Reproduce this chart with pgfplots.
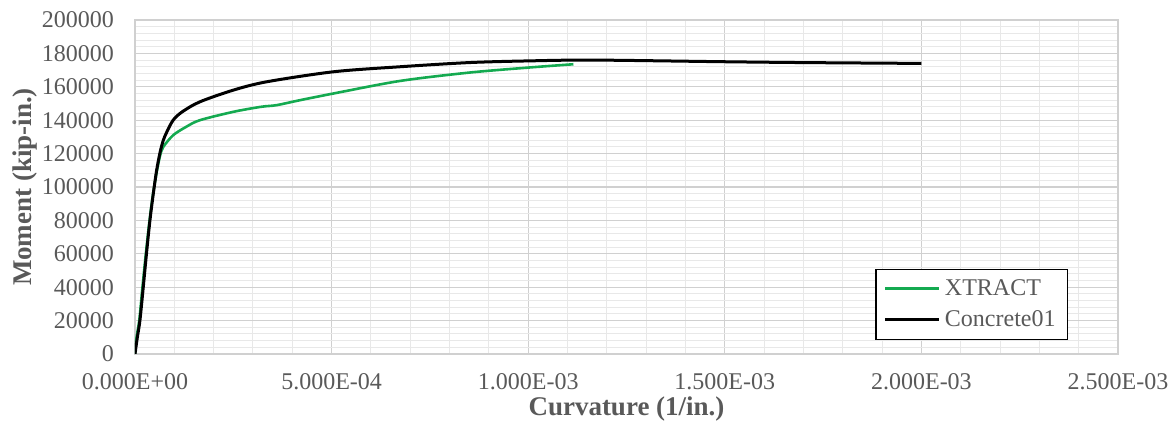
\documentclass[border=0pt]{standalone}
\usepackage{pgfplots}
\pgfplotsset{compat=1.18}
\usepackage{fontspec}
\setmainfont{Liberation Serif}
\definecolor{txt}{RGB}{89,89,89}
\definecolor{xgreen}{RGB}{20,170,80}
\definecolor{majgrid}{RGB}{208,208,208}
\definecolor{mingrid}{RGB}{232,232,232}

\begin{document}
\begin{tikzpicture}
\begin{axis}[
  scale only axis,
  width=491.5pt, height=167pt,
  xmin=0, xmax=0.0025, ymin=0, ymax=200000,
  xtick={0,0.0005,0.001,0.0015,0.002,0.0025},
  xticklabels={0.000E+00,5.000E-04,1.000E-03,1.500E-03,2.000E-03,2.500E-03},
  scaled x ticks=false, scaled y ticks=false,
  ytick={0,20000,...,200000},
  yticklabel style={/pgf/number format/fixed,/pgf/number format/1000 sep={}},
  /pgf/number format/assume math mode=true,
  minor x tick num=4, minor y tick num=4,
  grid=both,
  major grid style={majgrid, line width=0.6pt},
  minor grid style={mingrid, line width=0.5pt},
  axis line style={majgrid, line width=0.6pt},
  major tick length=0pt, minor tick length=0pt,
  tick label style={font=\fontsize{12}{14}\selectfont, text=txt},
  xticklabel style={yshift=-6pt},
  yticklabel style={xshift=-7pt},
  xlabel={\textbf{Curvature (1/in.)}},
  ylabel={\textbf{Moment (kip-in.)}},
  every axis x label/.style={at={(axis description cs:0.5,-0.165)}, anchor=center,
    font=\fontsize{13.5}{15}\selectfont, text=txt},
  every axis y label/.style={at={(axis description cs:-0.112,0.5)}, rotate=90, anchor=center,
    font=\fontsize{13.5}{15}\selectfont, text=txt},
  legend style={at={(axis description cs:0.753,0.042)}, anchor=south west, draw=black, line width=0.7pt,
    fill=white, font=\fontsize{12}{14}\selectfont, text=txt,
    row sep=2pt, inner xsep=4pt, inner ysep=3pt},
  legend cell align=left,
  legend image code/.code={\draw[#1, line width=1.5pt] (0cm,0cm) -- (0.95cm,0cm);},
]
\addplot[xgreen, line width=1.3pt, smooth] coordinates {
(0,0) (4e-6,10000) (1.1e-5,20400) (1.9e-5,40000) (2.85e-5,62000) (3.7e-5,80000) (4.6e-5,96000)
(5.6e-5,110000) (6.4e-5,119000) (7.2e-5,124000) (9.7e-5,131000) (1.3e-4,136000)
(1.65e-4,140000) (2.5e-4,145000) (3.2e-4,148000) (3.6e-4,149000) (4.2e-4,152000)
(5.05e-4,156000) (6.74e-4,163500) (8.5e-4,168500) (1.0e-3,171500) (1.115e-3,173500)
};
\addlegendentry{XTRACT}
\addplot[black, line width=1.5pt, smooth] coordinates {
(0,0) (6e-6,10000) (1.27e-5,20400) (2.1e-5,40000) (3e-5,62000) (3.8e-5,80000)
(4.6e-5,95000) (5.5e-5,110000) (6.4e-5,121000) (7.2e-5,128000) (8.1e-5,133000)
(9.7e-5,140000) (1.2e-4,145000) (1.65e-4,151000) (2.5e-4,158000) (3.35e-4,163000)
(5.05e-4,169000) (6.74e-4,172000) (8.5e-4,174500) (1.0e-3,175500) (1.165e-3,176000)
(1.5e-3,175000) (1.7e-3,174500) (2.0e-3,174000)
};
\addlegendentry{Concrete01}
\end{axis}
\pgfresetboundingbox
\path ([xshift=-67.5pt,yshift=-33.5pt]current axis.south west) rectangle ([xshift=28pt,yshift=10pt]current axis.north east);
\end{tikzpicture}
\end{document}
